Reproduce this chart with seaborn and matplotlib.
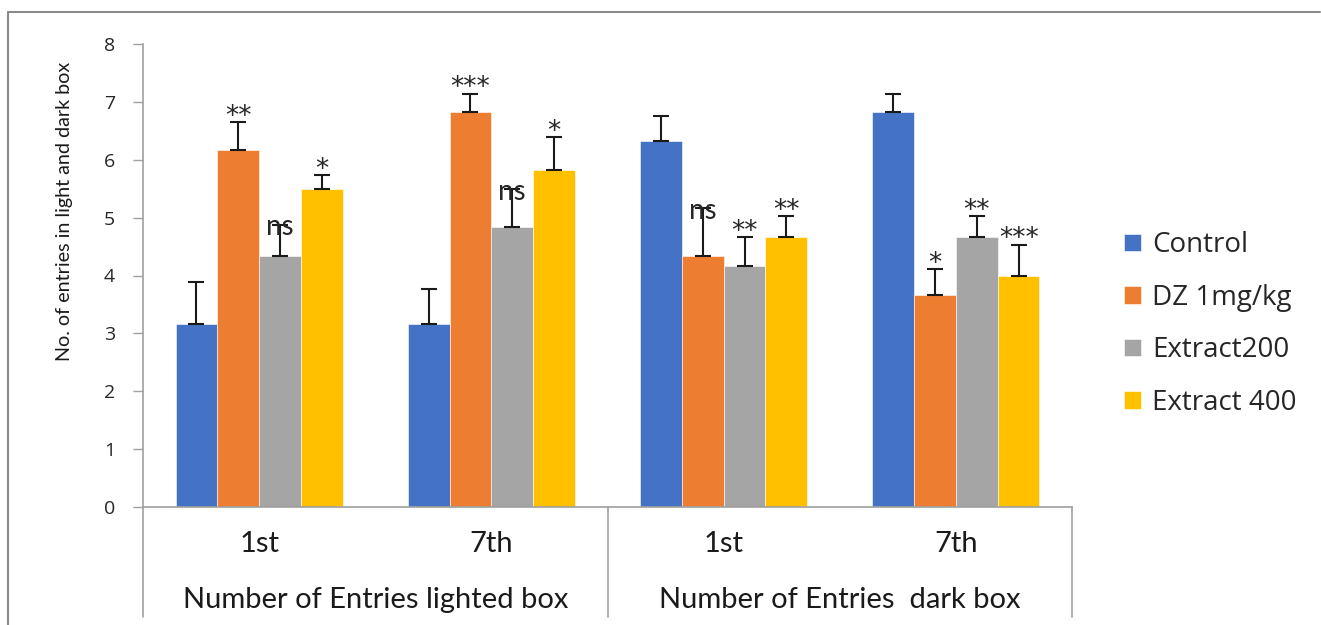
import numpy as np
import pandas as pd
import matplotlib
matplotlib.use("Agg")
import matplotlib.pyplot as plt
from matplotlib.lines import Line2D
import seaborn as sns

# ---- data -------------------------------------------------------------
cell_keys = ["light_1st", "light_7th", "dark_1st", "dark_7th"]
day_labels = ["1st", "7th", "1st", "7th"]
box_labels = ["Number of Entries lighted box", "Number of Entries  dark box"]

treatments = ["Control", "DZ 1mg/kg", "Extract200", "Extract 400"]

control = [3.17, 3.17, 6.33, 6.83]
dz_1mg = [6.17, 6.83, 4.33, 3.67]
extract200 = [4.33, 4.83, 4.17, 4.67]
extract400 = [5.50, 5.83, 4.67, 4.00]

control_sem = [0.72, 0.60, 0.43, 0.30]
dz_1mg_sem = [0.48, 0.31, 0.83, 0.44]
extract200_sem = [0.55, 0.66, 0.49, 0.35]
extract400_sem = [0.23, 0.56, 0.35, 0.53]

control_sig = ["", "", "", ""]
dz_1mg_sig = ["**", "***", "ns", "*"]
extract200_sig = ["ns", "ns", "**", "**"]
extract400_sig = ["*", "*", "**", "***"]

y_ticks = [0, 1, 2, 3, 4, 5, 6, 7, 8]
y_label = "No. of entries in light and dark box"

palette = ["#4472C4", "#ED7D31", "#A5A5A5", "#FFC000"]

# ---- long-form table --------------------------------------------------
means = [control, dz_1mg, extract200, extract400]
sems = [control_sem, dz_1mg_sem, extract200_sem, extract400_sem]
sigs = [control_sig, dz_1mg_sig, extract200_sig, extract400_sig]
rows = []
for t, m in zip(treatments, means):
    for k, v in zip(cell_keys, m):
        rows.append({"cell": k, "treatment": t, "entries": v})
df = pd.DataFrame(rows)

# ---- figure -----------------------------------------------------------
sns.set_style("white")
plt.rcParams["font.family"] = ["Lato", "DejaVu Sans"]

W, H = 1321, 625
fig = plt.figure(figsize=(W / 100, H / 100), dpi=100)
ax_l, ax_r, ax_t, ax_b = 143, 1072, 44, 507
ax = fig.add_axes([ax_l / W, 1 - ax_b / H, (ax_r - ax_l) / W, (ax_b - ax_t) / H])

sns.barplot(data=df, x="cell", y="entries", hue="treatment",
            order=cell_keys, hue_order=treatments, palette=palette,
            width=0.72, errorbar=None, saturation=1, ax=ax,
            edgecolor="white", linewidth=0.4)

# upper error bars and significance marks
for cont, err, marks in zip(ax.containers, sems, sigs):
    xs = [b.get_x() + b.get_width() / 2 for b in cont]
    hs = [b.get_height() for b in cont]
    ax.errorbar(xs, hs, yerr=[np.zeros(len(err)), err], fmt="none",
                ecolor="#1a1a1a", elinewidth=1.5, capsize=5.8, capthick=1.5,
                zorder=3)
    for x, h, e, s in zip(xs, hs, err, marks):
        if not s:
            continue
        if s == "ns":
            ax.annotate(s, (x, h + e), xytext=(0, -2), textcoords="offset points",
                        ha="center", va="center", fontsize=20, color="#262626",
                        zorder=4)
        else:
            ax.annotate(s, (x, h + e), xytext=(0, -1), textcoords="offset points",
                        ha="center", va="baseline", fontsize=19, color="#262626",
                        family="DejaVu Sans", zorder=4)

ax.set_ylim(0, 8)
ax.set_xlim(-0.5, 3.5)
ax.set_yticks(y_ticks)
ax.set_yticklabels([str(t) for t in y_ticks], family="Open Sans", fontsize=14,
                   color="#262626")
ax.tick_params(axis="y", direction="out", length=7.2, width=1, color="#a0a0a0",
               pad=13, left=True)
ax.set_xticks(range(len(cell_keys)))
ax.set_xticklabels([])
ax.tick_params(axis="x", length=0)
ax.set_xlabel("")

ax.set_ylabel(y_label, fontsize=14.2, color="#1a1a1a")
ax.yaxis.set_label_coords(-0.085, 0.639)
ax.yaxis.label.set_va("center")

for side in ("top", "right"):
    ax.spines[side].set_visible(False)
for side in ("left", "bottom"):
    ax.spines[side].set_color("#a0a0a0")
    ax.spines[side].set_linewidth(1.2)

# two-level category axis below the bars
xtr = ax.get_xaxis_transform()
drop = (617 - ax_b) / (ax_b - ax_t)
for xb in (-0.5, 1.5, 3.5):
    ax.add_line(Line2D([xb, xb], [0, -drop], transform=xtr, color="#a0a0a0",
                       lw=1.2, clip_on=False))
day_y = -(544 - ax_b) / (ax_b - ax_t)
box_y = -(600 - ax_b) / (ax_b - ax_t)
for i, lab in enumerate(day_labels):
    ax.text(i, day_y, lab, transform=xtr, ha="center", va="center",
            fontsize=21, color="#1a1a1a")
for i, lab in enumerate(box_labels):
    ax.text(2 * i + 0.5, box_y, lab, transform=xtr, ha="center", va="center",
            fontsize=21, color="#1a1a1a")

# legend
handles, labels = ax.get_legend_handles_labels()
ax.legend(handles, labels, loc="center left",
          bbox_to_anchor=(1124 / W, 1 - 324 / H), bbox_transform=fig.transFigure,
          frameon=False, prop={"family": "Open Sans", "size": 20},
          handlelength=0.6, handleheight=0.6, handletextpad=0.4,
          labelspacing=0.88, borderpad=0, borderaxespad=0, labelcolor="#262626")

# outer chart frame
fig.add_artist(Line2D([8 / W, 1320 / W], [1 - 12 / H, 1 - 12 / H],
                      transform=fig.transFigure, color="#8a8a8a", lw=1.5))
fig.add_artist(Line2D([8 / W, 8 / W], [1 - 12 / H, 0],
                      transform=fig.transFigure, color="#8a8a8a", lw=1.5))

fig.savefig("out.png", dpi=100)
